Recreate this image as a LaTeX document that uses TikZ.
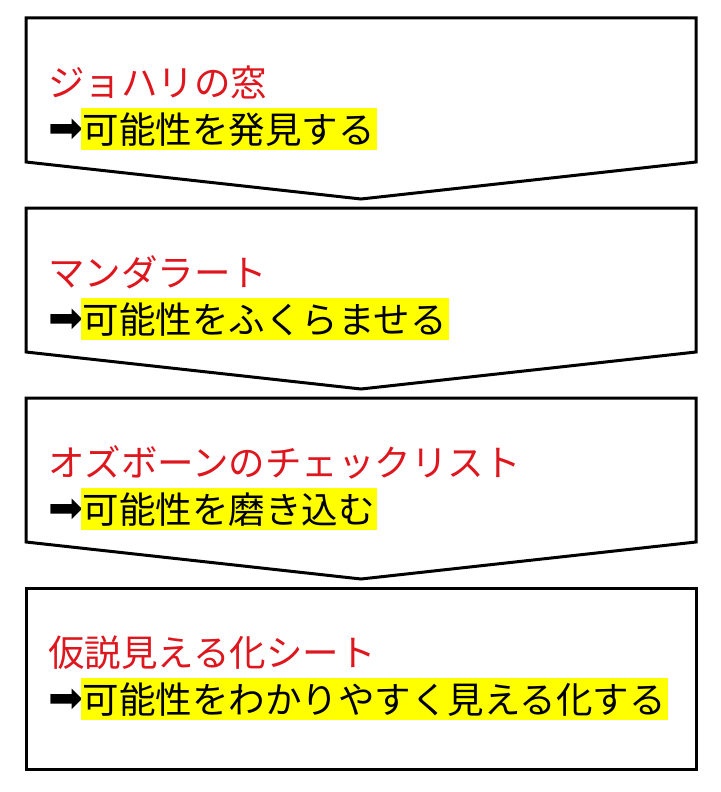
\documentclass[tikz,border=0pt]{standalone}
\usepackage{fontspec}
\setmainfont{Noto Sans CJK JP}
\newfontfamily\symfont{DejaVu Sans}
\usepackage{tikz}
\usetikzlibrary{positioning}
\definecolor{titlered}{RGB}{222,22,30}
\definecolor{marker}{RGB}{255,255,0}

\begin{document}
\begin{tikzpicture}[x=1pt, y=-1pt,
    stage/.style={draw=black, line width=3pt, line join=miter, fill=white},
    title/.style={text=titlered, font=\fontsize{36.5}{40}\selectfont, inner sep=0pt, anchor=base west},
    pointer/.style={font=\symfont\fontsize{42}{44}\selectfont, inner sep=0pt, anchor=base west},
    goal/.style={fill=marker, font=\fontsize{36.5}{40}\selectfont, inner xsep=2pt, inner ysep=0pt, text height=36pt, text depth=6.5pt}]
    \useasboundingbox (0,0) rectangle (720,792);

    % stage outlines
    \draw[stage] (26,18) -- (696,18) -- (696,162) -- (361,199) -- (26,162) -- cycle;
    \draw[stage] (26,208) -- (696,208) -- (696,352) -- (361,389) -- (26,352) -- cycle;
    \draw[stage] (26,398) -- (696,398) -- (696,542) -- (361,579) -- (26,542) -- cycle;
    \draw[stage] (26,588) rectangle (696,769);

    % stage 1
    \node[title] (johari) at (48,96) {ジョハリの窓};
    \node[pointer] (arr1) at (48,142) {➡};
    \node[goal, right=-3pt of arr1.base east, anchor=base west, yshift=-1.5pt] (find) {可能性を発見する};

    % stage 2
    \node[title] (mandala) at (48,286) {マンダラート};
    \node[pointer] (arr2) at (48,332) {➡};
    \node[goal, right=-3pt of arr2.base east, anchor=base west, yshift=-1.5pt] (expand) {可能性をふくらませる};

    % stage 3
    \node[title] (osborn) at (48,476) {オズボーンのチェックリスト};
    \node[pointer] (arr3) at (48,522) {➡};
    \node[goal, right=-3pt of arr3.base east, anchor=base west, yshift=-1.5pt] (polish) {可能性を磨き込む};

    % stage 4
    \node[title] (sheet) at (48,666) {仮説見える化シート};
    \node[pointer] (arr4) at (48,712) {➡};
    \node[goal, right=-3pt of arr4.base east, anchor=base west, yshift=-1.5pt] (visual) {可能性をわかりやすく見える化する};
\end{tikzpicture}
\end{document}
